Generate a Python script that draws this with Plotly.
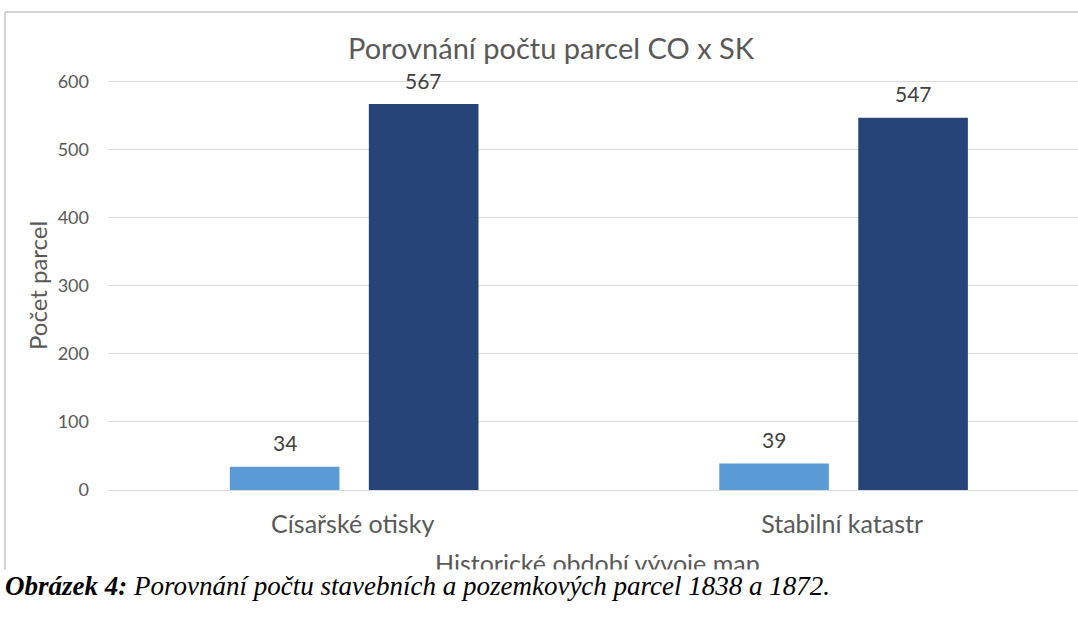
import plotly.graph_objects as go

categories = ["Císařské otisky", "Stabilní katastr"]
stavebni = [34, 39]
pozemkove = [567, 547]
y_ticks = [0, 100, 200, 300, 400, 500, 600]

title_text = "Porovnání počtu parcel CO x SK"
x_title = "Historické období vývoje map"
y_title = "Počet parcel"
caption_bold = "Obrázek 4:"
caption_rest = " Porovnání počtu stavebních a pozemkových parcel 1838 a 1872."

LIGHT = "#5B9BD5"
DARK = "#264478"
GRAY = "#595959"
LABEL = "#404040"
FONT = "Lato"

W, H = 1078, 617
L, T, B = 108, 68, 127          # plot area: x 108..1078, y 68..490
PW, PH = W - L, H - T - B


def px(x):
    return (x - L) / PW


def py(y):
    return (H - B - y) / PH


bar_w = 0.224
off_light = -0.251
off_dark = 0.033

fig = go.Figure()
fig.add_trace(go.Bar(x=categories, y=stavebni, name="Stavební parcely",
                     marker=dict(color=LIGHT, line=dict(width=0)),
                     width=bar_w, offset=off_light, showlegend=False, hoverinfo="skip"))
fig.add_trace(go.Bar(x=categories, y=pozemkove, name="Pozemkové parcely",
                     marker=dict(color=DARK, line=dict(width=0)),
                     width=bar_w, offset=off_dark, showlegend=False, hoverinfo="skip"))

annotations = []
for i, (a, b) in enumerate(zip(stavebni, pozemkove)):
    annotations.append(dict(x=i + off_light + bar_w / 2, y=a, xref="x", yref="y",
                            text=str(a), showarrow=False, yanchor="middle", yshift=24,
                            font=dict(family=FONT, size=21, color=LABEL)))
    annotations.append(dict(x=i + off_dark + bar_w / 2, y=b, xref="x", yref="y",
                            text=str(b), showarrow=False, yanchor="middle", yshift=24,
                            font=dict(family=FONT, size=21, color=LABEL)))

annotations += [
    dict(x=px(551), y=py(48), xref="paper", yref="paper", text=title_text, showarrow=False,
         xanchor="center", yanchor="middle", font=dict(family=FONT, size=29, color=GRAY)),
    dict(x=px(37), y=py(286), xref="paper", yref="paper", text=y_title, showarrow=False,
         textangle=-90, xanchor="center", yanchor="middle",
         font=dict(family=FONT, size=24, color=GRAY)),
    dict(x=px(597), y=py(563), xref="paper", yref="paper", text=x_title, showarrow=False,
         xanchor="center", yanchor="middle", font=dict(family=FONT, size=25, color=GRAY)),
    # white strip of the document page that cuts the chart off
    dict(x=px(-2), y=py(569), xref="paper", yref="paper", text=" ", showarrow=False,
         xanchor="left", yanchor="top", width=1082, height=60, bgcolor="white", borderpad=0),
    dict(x=px(3), y=py(586), xref="paper", yref="paper",
         text="<b><i>" + caption_bold + "</i></b><i>" + caption_rest + "</i>",
         showarrow=False, xanchor="left", yanchor="middle",
         font=dict(family="Liberation Serif", size=27, color="#000000")),
]

shapes = [
    dict(type="line", xref="paper", yref="paper", x0=px(5), x1=px(5), y0=py(575), y1=py(12),
         line=dict(color="#d4d4d4", width=2), layer="below"),
    dict(type="line", xref="paper", yref="paper", x0=px(5), x1=1.0, y0=py(12), y1=py(12),
         line=dict(color="#d4d4d4", width=2), layer="below"),
]

fig.update_layout(
    width=W, height=H,
    margin=dict(l=L, r=0, t=T, b=B),
    paper_bgcolor="white", plot_bgcolor="white",
    barmode="overlay", hovermode=False,
    annotations=annotations, shapes=shapes,
    xaxis=dict(type="category", categoryarray=categories, range=[-0.5, 1.482],
               showgrid=False, showline=False, zeroline=False, ticks="",
               tickfont=dict(family=FONT, size=25, color=GRAY), ticklabelstandoff=17),
    yaxis=dict(range=[0, 620], tickvals=y_ticks, showgrid=True, gridcolor="#d9d9d9",
               gridwidth=1, zeroline=True, zerolinecolor="#d9d9d9", zerolinewidth=1,
               showline=False, ticks="",
               tickfont=dict(family=FONT, size=18, color=GRAY), ticklabelstandoff=18),
    font=dict(family=FONT),
)

fig.write_html("out.html", config={"displayModeBar": False},
               post_script="document.body.style.margin='0';document.body.style.padding='0';")
